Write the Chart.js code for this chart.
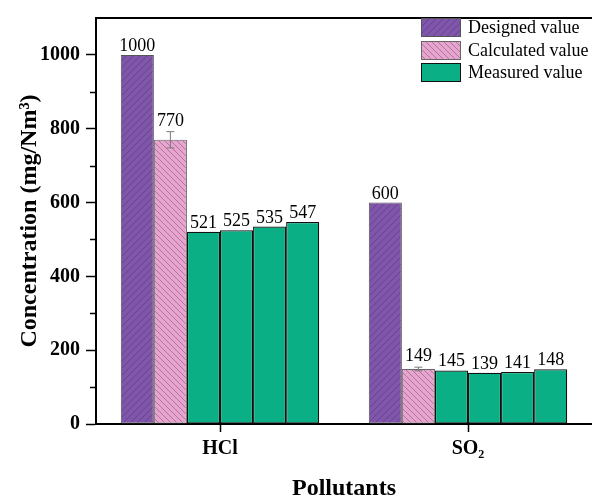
<!DOCTYPE html>
<html>
<head>
<meta charset="utf-8">
<script src="https://cdn.jsdelivr.net/npm/chart.js@4.4.1/dist/chart.umd.min.js"></script>
<style>
    html, body { margin: 0; padding: 0; background: #fff; overflow: hidden; }
    #wrap { width: 592px; height: 501px; position: relative; }
</style>
</head>
<body>
<div id="wrap"><canvas id="chart"></canvas></div>
<script>
// -----------------------------------------
// DATA
// -----------------------------------------
const categories = ["HCl", "SO\u2082"];
const designed = [1000, 600];
const calculated = [770, 149];
const calculatedErr = [22, 5];
const measured1 = [521, 145];
const measured2 = [525, 139];
const measured3 = [535, 141];
const measured4 = [547, 148];
const yTicks = [0, 200, 400, 600, 800, 1000];
const yMinorTicks = [100, 300, 500, 700, 900];

const SERIF = "'Liberation Serif', 'Times New Roman', serif";

// -----------------------------------------
// HATCH PATTERNS
// -----------------------------------------
function hatch(bg, line, dir, s) {
    const c = document.createElement("canvas");
    c.width = s; c.height = s;
    const g = c.getContext("2d");
    g.fillStyle = bg;
    g.fillRect(0, 0, s, s);
    g.strokeStyle = line;
    g.lineWidth = 1;
    g.beginPath();
    if (dir === "/") {
        g.moveTo(-1, s + 1); g.lineTo(s + 1, -1);
        g.moveTo(-1, 1); g.lineTo(1, -1);
        g.moveTo(s - 1, s + 1); g.lineTo(s + 1, s - 1);
    } else {
        g.moveTo(-1, -1); g.lineTo(s + 1, s + 1);
        g.moveTo(s - 1, -1); g.lineTo(s + 1, 1);
        g.moveTo(-1, s - 1); g.lineTo(1, s + 1);
    }
    g.stroke();
    return g.createPattern(c, "repeat");
}

const purpleFill = hatch("#7f56a9", "#67438f", "/", 7);
const pinkFill = hatch("#e9a3cf", "#a77a9b", "\\", 6);
const greenFill = "#0baf86";

function ds(label, data, fill, border, bw) {
    return {
        label: label,
        data: data,
        backgroundColor: fill,
        borderColor: border,
        borderWidth: bw,
        borderSkipped: false
    };
}

const datasets = [
    ds("Designed value", designed, purpleFill, "#555555", 1),
    ds("Calculated value", calculated, pinkFill, "#666666", 1),
    ds("Measured value", measured1, greenFill, "#111111", 1.2),
    ds("m2", measured2, greenFill, "#111111", 1.2),
    ds("m3", measured3, greenFill, "#111111", 1.2),
    ds("m4", measured4, greenFill, "#111111", 1.2)
];

// -----------------------------------------
// PLUGINS
// -----------------------------------------
const decorPlugin = {
    id: "decor",
    afterDatasetsDraw(chart) {
        const ctx = chart.ctx;
        const y = chart.scales.y;
        const area = chart.chartArea;

        // error bars on calculated value
        const calcMeta = chart.getDatasetMeta(1);
        ctx.save();
        ctx.strokeStyle = "#7a7a7a";
        ctx.lineWidth = 1;
        calcMeta.data.forEach((bar, i) => {
            const v = calculated[i];
            const e = calculatedErr[i];
            const yt = y.getPixelForValue(v + e);
            const yb = y.getPixelForValue(v - e);
            ctx.beginPath();
            ctx.moveTo(bar.x, yt); ctx.lineTo(bar.x, yb);
            ctx.moveTo(bar.x - 4, yt); ctx.lineTo(bar.x + 4, yt);
            ctx.moveTo(bar.x - 4, yb); ctx.lineTo(bar.x + 4, yb);
            ctx.stroke();
        });
        ctx.restore();

        // value labels
        ctx.save();
        ctx.fillStyle = "#000";
        ctx.font = "18px " + SERIF;
        ctx.textAlign = "center";
        ctx.textBaseline = "alphabetic";
        chart.data.datasets.forEach((d, di) => {
            chart.getDatasetMeta(di).data.forEach((bar, i) => {
                let top = bar.y;
                if (di === 1) top = y.getPixelForValue(calculated[i] + calculatedErr[i]) - 2;
                ctx.fillText(String(d.data[i]), bar.x, top - 4);
            });
        });
        ctx.restore();

        // minor ticks
        ctx.save();
        ctx.strokeStyle = "#000";
        ctx.lineWidth = 1.5;
        yMinorTicks.forEach(v => {
            const py = Math.round(y.getPixelForValue(v)) + 0.5;
            ctx.beginPath();
            ctx.moveTo(area.left, py);
            ctx.lineTo(area.left - 6, py);
            ctx.stroke();
        });
        // top frame line
        ctx.lineWidth = 2;
        ctx.beginPath();
        ctx.moveTo(area.left, area.top);
        ctx.lineTo(chart.width, area.top);
        ctx.stroke();
        ctx.restore();

        // legend
        ctx.save();
        const lx = 421, bw = 40, bh = 19;
        const rows = [18, 41, 63];
        ctx.font = "18px " + SERIF;
        ctx.textAlign = "left";
        ctx.textBaseline = "middle";
        for (let k = 0; k < 3; k++) {
            const d = chart.data.datasets[k];
            ctx.fillStyle = d.backgroundColor;
            ctx.fillRect(lx, rows[k], bw, bh);
            ctx.strokeStyle = d.borderColor;
            ctx.lineWidth = 1;
            ctx.strokeRect(lx + 0.5, rows[k] + 0.5, bw - 1, bh - 1);
            ctx.fillStyle = "#000";
            ctx.fillText(d.label, lx + bw + 7, rows[k] + bh / 2 + 1);
        }
        ctx.restore();
    }
};

// -----------------------------------------
// CHART
// -----------------------------------------
const canvas = document.getElementById("chart");
canvas.width = 592;
canvas.height = 501;

new Chart(canvas, {
    type: "bar",
    data: { labels: categories, datasets: datasets },
    options: {
        responsive: false,
        animation: false,
        devicePixelRatio: 1,
        layout: { padding: { top: 16, right: 0, left: 0, bottom: 0 } },
        categoryPercentage: 0.8,
        barPercentage: 1.0,
        plugins: {
            legend: { display: false },
            tooltip: { enabled: false }
        },
        scales: {
            x: {
                offset: true,
                grid: {
                    offset: false,
                    drawOnChartArea: false,
                    drawTicks: true,
                    tickLength: 8,
                    tickWidth: 1.5,
                    tickColor: "#000"
                },
                border: { display: true, color: "#000", width: 2 },
                ticks: {
                    color: "#000",
                    padding: 5,
                    font: { family: SERIF, size: 20, weight: "bold" }
                },
                title: {
                    display: true,
                    text: "Pollutants",
                    color: "#000",
                    padding: 0,
                    font: { family: SERIF, size: 24, weight: "bold", lineHeight: 1 }
                },
                afterFit(scale) { scale.height = 77; }
            },
            y: {
                min: 0,
                max: 1100,
                afterBuildTicks(scale) {
                    scale.ticks = yTicks.map(v => ({ value: v }));
                },
                grid: {
                    drawOnChartArea: false,
                    drawTicks: true,
                    tickLength: 10,
                    tickWidth: 1.5,
                    tickColor: "#000"
                },
                border: { display: true, color: "#000", width: 2 },
                ticks: {
                    color: "#000",
                    padding: 6,
                    callback: v => String(v),
                    font: { family: SERIF, size: 20, weight: "bold" }
                },
                title: {
                    display: true,
                    text: "Concentration (mg/Nm\u00b3)",
                    color: "#000",
                    padding: { top: 15, bottom: 0 },
                    font: { family: SERIF, size: 24, weight: "bold" }
                },
                afterFit(scale) { scale.width = 96; }
            }
        }
    },
    plugins: [decorPlugin]
});
</script>
</body>
</html>
